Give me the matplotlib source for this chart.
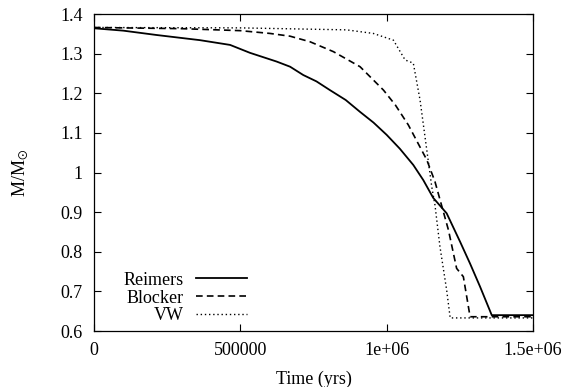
import matplotlib
matplotlib.use("Agg")
import matplotlib.pyplot as plt
from matplotlib.ticker import FixedLocator, FixedFormatter

plt.rcParams['font.family'] = ['Liberation Serif', 'DejaVu Serif']
plt.rcParams['mathtext.fontset'] = 'stix'

# mass-loss tracks (time in yrs, mass in solar masses)
t_reimers = [0, 100000, 214000, 362000, 465000, 533000, 624000, 670000, 715000,
             760000, 806000, 860000, 909000, 955000, 1000000, 1045000, 1091000,
             1125000, 1159000, 1205000, 1251000, 1285000, 1319000, 1359000, 1500000]
m_reimers = [1.364, 1.358, 1.347, 1.334, 1.322, 1.302, 1.280, 1.267, 1.246,
             1.230, 1.208, 1.183, 1.153, 1.126, 1.095, 1.060, 1.019,
             0.981, 0.936, 0.897, 0.825, 0.770, 0.712, 0.640, 0.640]

t_blocker = [0, 300000, 500000, 601000, 670000, 738000, 818000, 909000, 989000,
             1030000, 1074000, 1137000, 1165000, 1211000, 1239000, 1262000, 1285000, 1500000]
m_blocker = [1.366, 1.363, 1.358, 1.351, 1.344, 1.330, 1.305, 1.267, 1.208,
             1.170, 1.120, 1.032, 0.977, 0.855, 0.758, 0.737, 0.636, 0.636]

t_vw = [0, 500000, 863000, 954000, 1023000, 1063000, 1091000, 1114000,
        1137000, 1154000, 1165000, 1182000, 1205000, 1217000, 1500000]
m_vw = [1.366, 1.365, 1.360, 1.351, 1.334, 1.284, 1.276, 1.183,
        1.057, 0.964, 0.918, 0.813, 0.703, 0.633, 0.633]

xticks = [0, 500000, 1000000, 1500000]
xticklabels = ["0", "500000", "1e+06", "1.5e+06"]
yticks = [0.6, 0.7, 0.8, 0.9, 1.0, 1.1, 1.2, 1.3, 1.4]
yticklabels = ["0.6", "0.7", "0.8", "0.9", "1", "1.1", "1.2", "1.3", "1.4"]

fig = plt.figure(figsize=(5.68, 3.87), dpi=100)
ax = fig.add_axes([0.1655, 0.1447, 0.7729, 0.8191])

ax.plot(t_reimers, m_reimers, color="black", lw=1.3, label="Reimers")
ax.plot(t_blocker, m_blocker, color="black", lw=1.2, linestyle=(0, (4, 2.5)), label="Blocker")
ax.plot(t_vw, m_vw, color="black", lw=1.0, linestyle=(0, (1, 2)), label="VW")

ax.set_xlim(0, 1500000)
ax.set_ylim(0.6, 1.4)
ax.xaxis.set_major_locator(FixedLocator(xticks))
ax.xaxis.set_major_formatter(FixedFormatter(xticklabels))
ax.yaxis.set_major_locator(FixedLocator(yticks))
ax.yaxis.set_major_formatter(FixedFormatter(yticklabels))
ax.tick_params(direction="in", top=True, right=True, length=5, width=0.8,
               labelsize=13, pad=8)
for s in ax.spines.values():
    s.set_linewidth(0.9)

ax.set_xlabel("Time (yrs)", fontsize=13, labelpad=8)
ax.set_ylabel(r"M/M$_{\odot}$", fontsize=13, labelpad=22)

ax.legend(loc="center right", bbox_to_anchor=(0.385, 0.104), markerfirst=False,
          frameon=False, fontsize=13, handlelength=2.8, handletextpad=0.7,
          labelspacing=0.05)

plt.savefig("out.png", dpi=100)
